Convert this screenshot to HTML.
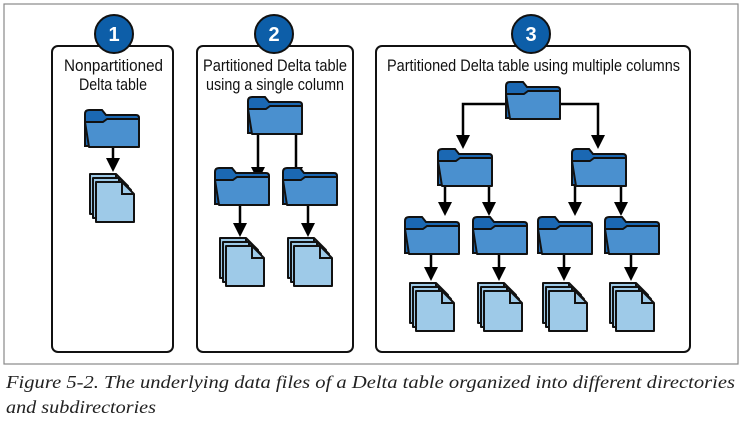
<!DOCTYPE html>
<html><head><meta charset="utf-8"><style>
body{margin:0;background:#fff;width:743px;height:422px;overflow:hidden;font-family:"Liberation Sans",sans-serif}
</style></head><body>
<svg width="743" height="422" style="position:absolute;left:0;top:0">
<defs>
<g id="fold">
<path d="M1,6 Q1,2 5,2 H18 L22,7 H52 Q55,7 55,10 V38 H1 Z" fill="#1b68b3" stroke="#111" stroke-width="2"/>
<path d="M1,14 H19 L23,11 H55 V39 H5 Z" fill="#4a90cf" stroke="#111" stroke-width="2" stroke-linejoin="round"/>
</g>
<g id="pg"><path d="M0,0 H26 L38,12 V40 H0 Z" fill="#9ecae8" stroke="#111" stroke-width="2" stroke-linejoin="round"/><path d="M26,0 V12 H38" fill="none" stroke="#111" stroke-width="2"/></g>
<g id="files"><use href="#pg" x="0" y="0"/><use href="#pg" x="3" y="4"/><use href="#pg" x="6" y="8"/></g>
<g id="arr"><path d="M-7,-14 H7 L0,0 Z" fill="#000"/></g>
</defs>
<rect x="4" y="4" width="734" height="360" fill="none" stroke="#888" stroke-width="1.2"/>
<g fill="#fff" stroke="#111" stroke-width="2">
<rect x="52" y="46" width="121" height="306" rx="6"/>
<rect x="197" y="46" width="156" height="306" rx="6"/>
<rect x="376" y="46" width="314" height="306" rx="6"/>
</g>
<g fill="#0d5ea8" stroke="#111" stroke-width="2">
<circle cx="114" cy="34" r="19"/><circle cx="274" cy="34" r="19"/><circle cx="531" cy="34" r="19"/>
</g>
<g fill="#fff" font-size="20" font-weight="bold" text-anchor="middle">
<text x="114" y="41">1</text><text x="274" y="41">2</text><text x="531" y="41">3</text>
</g>
<g font-size="17" fill="#111">
<text x="64" y="71" textLength="99" lengthAdjust="spacingAndGlyphs">Nonpartitioned</text>
<text x="79" y="90" textLength="68" lengthAdjust="spacingAndGlyphs">Delta table</text>
<text x="203" y="71" textLength="144" lengthAdjust="spacingAndGlyphs">Partitioned Delta table</text>
<text x="206" y="90" textLength="138" lengthAdjust="spacingAndGlyphs">using a single column</text>
<text x="387" y="71" textLength="293" lengthAdjust="spacingAndGlyphs">Partitioned Delta table using multiple columns</text>
</g>
<g stroke="#000" stroke-width="2.5" fill="none">
<path d="M113,148 V160"/>
<path d="M258,134 V168 M296,134 V168"/>
<path d="M240,205 V224 M308,205 V224"/>
<path d="M505,104 H463 V136 M560,104 H598 V136"/>
<path d="M445,186 V203 M489,186 V203 M575,186 V203 M621,186 V203"/>
<path d="M431,252 V268 M499,252 V268 M564,252 V268 M631,252 V268"/>
</g>
<use href="#arr" x="113" y="172"/>
<use href="#arr" x="258" y="181"/><use href="#arr" x="296" y="181"/>
<use href="#arr" x="240" y="237"/><use href="#arr" x="308" y="237"/>
<use href="#arr" x="463" y="149"/><use href="#arr" x="598" y="149"/>
<use href="#arr" x="445" y="216"/><use href="#arr" x="489" y="216"/><use href="#arr" x="575" y="216"/><use href="#arr" x="621" y="216"/>
<use href="#arr" x="431" y="281"/><use href="#arr" x="499" y="281"/><use href="#arr" x="564" y="281"/><use href="#arr" x="631" y="281"/>
<use href="#fold" x="84" y="108"/>
<use href="#files" x="90" y="174"/>
<use href="#fold" x="247" y="95"/>
<use href="#fold" x="214" y="166"/><use href="#fold" x="282" y="166"/>
<use href="#files" x="220" y="238"/><use href="#files" x="288" y="238"/>
<use href="#fold" x="505" y="80"/>
<use href="#fold" x="437" y="147"/><use href="#fold" x="571" y="147"/>
<use href="#fold" x="404" y="215"/><use href="#fold" x="472" y="215"/><use href="#fold" x="537" y="215"/><use href="#fold" x="604" y="215"/>
<use href="#files" x="410" y="283"/><use href="#files" x="478" y="283"/><use href="#files" x="543" y="283"/><use href="#files" x="610" y="283"/>
<g font-family="Liberation Serif, serif" font-style="italic" font-size="18" fill="#222">
<text x="6" y="388" textLength="729" lengthAdjust="spacingAndGlyphs">Figure 5-2. The underlying data files of a Delta table organized into different directories</text>
<text x="6" y="413" textLength="150" lengthAdjust="spacingAndGlyphs">and subdirectories</text>
</g>
</svg>
</body></html>
